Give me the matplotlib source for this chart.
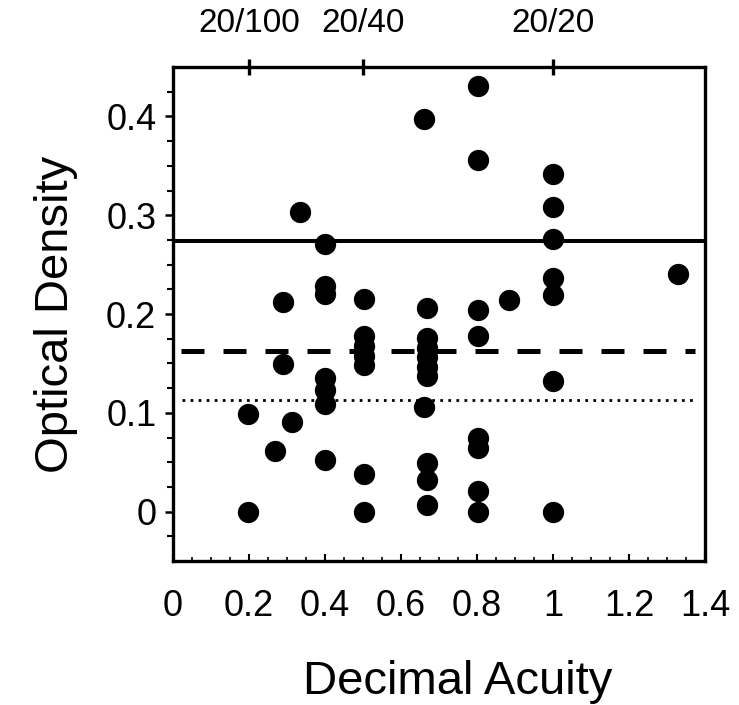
import numpy as np
import matplotlib
matplotlib.use("Agg")
import matplotlib.pyplot as plt

plt.rcParams['font.family'] = ['Liberation Sans', 'DejaVu Sans']

# Data (decimal acuity vs optical density)
acuity = [0.197, 0.197,
          0.268,
          0.289, 0.289,
          0.313,
          0.334,
          0.40, 0.40, 0.40, 0.40, 0.40, 0.40, 0.40,
          0.503, 0.503, 0.503, 0.503, 0.503, 0.503, 0.503,
          0.66, 0.668, 0.668, 0.668, 0.668, 0.668, 0.668, 0.661, 0.668, 0.668, 0.668,
          0.802, 0.802, 0.802, 0.802, 0.802, 0.802, 0.802, 0.802,
          0.885,
          1.0, 1.0, 1.0, 1.0, 1.0, 1.0, 1.0,
          1.328]
density = [0.099, 0.0,
           0.061,
           0.212, 0.149,
           0.091,
           0.303,
           0.271, 0.228, 0.220, 0.135, 0.123, 0.109, 0.052,
           0.215, 0.178, 0.168, 0.157, 0.148, 0.038, 0.0,
           0.397, 0.206, 0.176, 0.166, 0.156, 0.146, 0.137, 0.106, 0.049, 0.032, 0.007,
           0.431, 0.356, 0.204, 0.178, 0.074, 0.064, 0.021, 0.0,
           0.214,
           0.342, 0.308, 0.276, 0.236, 0.219, 0.132, 0.0,
           0.240]

solid_level = 0.274
dashed_level = 0.163
dotted_level = 0.1125

x_ticks = [0, 0.2, 0.4, 0.6, 0.8, 1.0, 1.2, 1.4]
x_tick_labels = ["0", "0.2", "0.4", "0.6", "0.8", "1", "1.2", "1.4"]
y_ticks = [0, 0.1, 0.2, 0.3, 0.4]
y_tick_labels = ["0", "0.1", "0.2", "0.3", "0.4"]
top_ticks = [0.2, 0.5, 1.0]
top_tick_labels = ["20/100", "20/40", "20/20"]

fig = plt.figure(figsize=(7.39, 7.05), dpi=100)
ax = fig.add_axes([173/739, 1-561/705, (705-173)/739, (561-67)/705])

ax.scatter(acuity, density, s=235, color='black', zorder=3, linewidths=0)

ax.plot([0, 1.4], [solid_level]*2, color='black', lw=2.9, solid_capstyle='butt', zorder=2)
ax.plot([0.02, 1.374], [dashed_level]*2, color='black', lw=3.6,
        linestyle=(0, (4.6, 3.8)), dash_capstyle='butt', zorder=2)
ax.plot([0.023, 1.38], [dotted_level]*2, color='black', lw=2.0,
        linestyle=(0, (1, 1.9)), zorder=2)

ax.set_xlim(0, 1.4)
ax.set_ylim(-0.05, 0.45)

for sp in ax.spines.values():
    sp.set_linewidth(2.4)

ax.set_xticks(x_ticks)
ax.set_xticklabels(x_tick_labels)
ax.set_xticks(np.arange(0, 1.401, 0.05), minor=True)
ax.tick_params(axis='x', which='major', direction='in', length=5, width=1.5,
               labelsize=26, pad=20, top=False)
ax.tick_params(axis='x', which='minor', direction='in', length=3, width=1.2, top=False)

ax.set_yticks(y_ticks)
ax.set_yticklabels(y_tick_labels)
ax.set_yticks(np.arange(-0.025, 0.45, 0.025), minor=True)
ax.tick_params(axis='y', which='major', direction='out', length=6, width=1.8,
               labelsize=26, pad=6)
ax.tick_params(axis='y', which='minor', direction='out', length=4, width=1.5)

ax.set_xlabel("Decimal Acuity", fontsize=34)
ax.xaxis.set_label_coords(0.535, -0.2)
ax.set_ylabel("Optical Density", fontsize=34, labelpad=20)

ax2 = ax.twiny()
ax2.set_xlim(ax.get_xlim())
ax2.set_xticks(top_ticks)
ax2.set_xticklabels(top_tick_labels)
ax2.tick_params(axis='x', which='major', direction='inout', length=12, width=2.4,
                labelsize=24, pad=14)
for sp in ax2.spines.values():
    sp.set_visible(False)

fig.savefig("out.png", dpi=100)
